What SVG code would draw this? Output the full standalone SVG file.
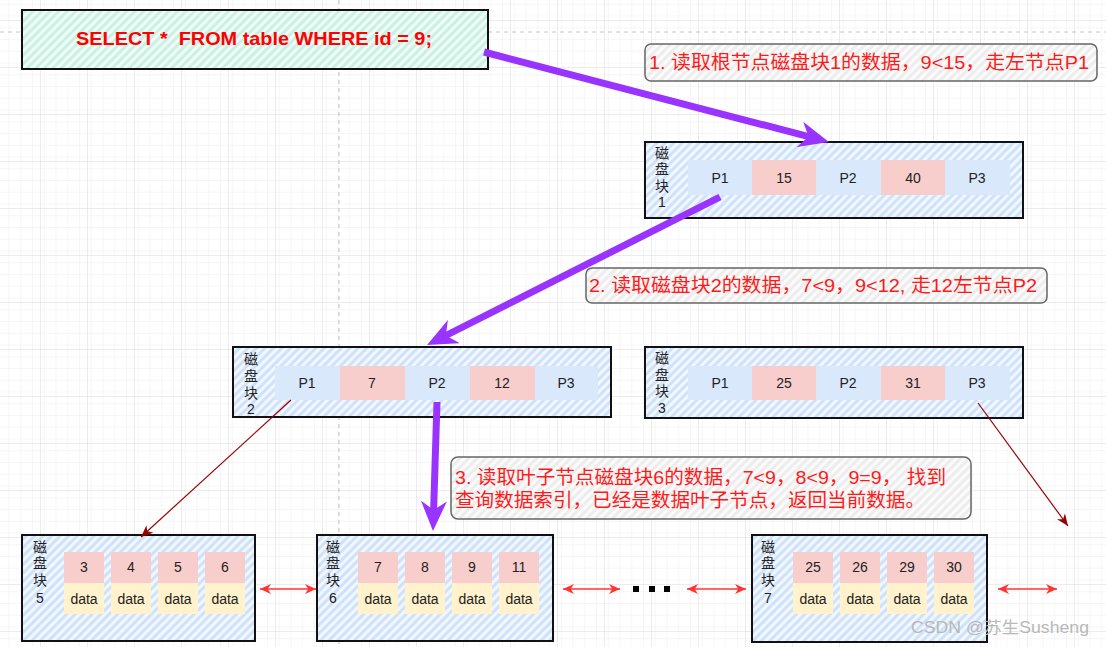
<svg xmlns="http://www.w3.org/2000/svg" width="1106" height="647" viewBox="0 0 1106 647">
<defs>
<style>
.t{font-family:"Liberation Sans","Noto Sans CJK SC",sans-serif;}
.cell{font-family:"Liberation Sans","Noto Sans CJK SC",sans-serif;font-size:14px;fill:#222;text-anchor:middle;}
.vl{font-family:"Liberation Sans","Noto Sans CJK SC",sans-serif;font-size:14px;fill:#222;text-anchor:middle;}
.blk{fill:url(#hatchBlue);stroke:#111;stroke-width:2;}
.lbl{fill:url(#hatchGray);stroke:#666;stroke-width:1.5;}
.note{font-family:"Liberation Sans","Noto Sans CJK SC",sans-serif;font-size:19px;fill:#ff1a1a;}
.p{fill:#dae8fc;}
.k{fill:#f8cecc;}
.d{fill:#fff2cc;}
.purple{stroke:#9933ff;stroke-width:7;fill:none;marker-end:url(#pHead);}
.dred{stroke:#990000;stroke-width:1.2;fill:none;marker-end:url(#dHead);}
.rdbl{stroke:#ff3333;stroke-width:1.5;fill:none;marker-start:url(#rHead);marker-end:url(#rHead);}
</style>
<pattern id="gridMinor" width="11.75" height="11.75" patternUnits="userSpaceOnUse" x="40" y="20">
<path d="M11.75 0V11.75H0" fill="none" stroke="#eeeeee" stroke-width="1"/>
</pattern>
<pattern id="grid" width="47" height="47" patternUnits="userSpaceOnUse" x="40" y="20">
<rect width="47" height="47" fill="url(#gridMinor)"/>
<path d="M0 0V47M0 0H47" fill="none" stroke="#dadada" stroke-width="1"/>
</pattern>
<pattern id="hatchBlue" width="6" height="6" patternUnits="userSpaceOnUse" patternTransform="rotate(45)">
<rect width="6" height="6" fill="#f2f7fe"/>
<rect width="3" height="6" fill="#cfe2fb"/>
</pattern>
<pattern id="hatchTeal" width="6" height="6" patternUnits="userSpaceOnUse" patternTransform="rotate(45)">
<rect width="6" height="6" fill="#effbf7"/>
<rect width="3" height="6" fill="#cbf1e5"/>
</pattern>
<pattern id="hatchGray" width="6" height="6" patternUnits="userSpaceOnUse" patternTransform="rotate(45)">
<rect width="6" height="6" fill="#fbfbfb"/>
<rect width="3" height="6" fill="#ededed"/>
</pattern>
<marker id="pHead" viewBox="0 0 10 10" refX="3.33" refY="5" markerWidth="30" markerHeight="26" markerUnits="userSpaceOnUse" orient="auto" preserveAspectRatio="none">
<path d="M0 0L10 5L0 10L3 5Z" fill="#9933ff"/>
</marker>
<marker id="dHead" viewBox="0 0 10 10" refX="10" refY="5" markerWidth="12" markerHeight="10" markerUnits="userSpaceOnUse" orient="auto" preserveAspectRatio="none">
<path d="M0 0L10 5L0 10L3 5Z" fill="#990000"/>
</marker>
<marker id="rHead" viewBox="0 0 10 10" refX="10" refY="5" markerWidth="11" markerHeight="10" markerUnits="userSpaceOnUse" orient="auto-start-reverse" preserveAspectRatio="none">
<path d="M0 0L10 5L0 10L3 5Z" fill="#ff3333"/>
</marker>
</defs>

<rect width="1106" height="647" fill="#ffffff"/>
<rect width="1106" height="647" fill="url(#grid)"/>
<path d="M339 0V647M0 32H1106" stroke="#c8c8c8" stroke-width="1.2" stroke-dasharray="4 4" fill="none"/>

<g id="sql">
<rect x="22" y="10" width="466" height="59" fill="url(#hatchTeal)" stroke="#111" stroke-width="2"/>
<text class="t" x="76" y="45" font-size="19" font-weight="bold" fill="#ff0000" textLength="356" lengthAdjust="spacingAndGlyphs">SELECT *&#160; FROM table WHERE id = 9;</text>
</g>

<g id="note1">
<rect class="lbl" x="645" y="44" width="452" height="37" rx="6"/>
<text class="note" x="649" y="69" textLength="440" lengthAdjust="spacingAndGlyphs">1. 读取根节点磁盘块1的数据，9&lt;15，走左节点P1</text>
</g>

<g id="block1">
<rect class="blk" x="645" y="142" width="378" height="76"/>
<text class="vl" x="662" y="158">磁</text><text class="vl" x="662" y="174">盘</text><text class="vl" x="662" y="191">块</text><text class="vl" x="662" y="207">1</text>
<rect class="p" x="688" y="160" width="64" height="35"/><rect class="k" x="752" y="160" width="64" height="35"/><rect class="p" x="816" y="160" width="65" height="35"/><rect class="k" x="881" y="160" width="64" height="35"/><rect class="p" x="945" y="160" width="65" height="35"/>
<text class="cell" x="720" y="183">P1</text><text class="cell" x="784" y="183">15</text><text class="cell" x="848" y="183">P2</text><text class="cell" x="913" y="183">40</text><text class="cell" x="977" y="183">P3</text>
</g>

<g id="note2">
<rect class="lbl" x="586" y="268" width="461" height="35" rx="6"/>
<text class="note" x="589" y="292" textLength="448" lengthAdjust="spacingAndGlyphs">2. 读取磁盘块2的数据，7&lt;9，9&lt;12, 走12左节点P2</text>
</g>

<g id="block2">
<rect class="blk" x="233" y="347" width="378" height="70"/>
<text class="vl" x="251" y="364">磁</text><text class="vl" x="251" y="381">盘</text><text class="vl" x="251" y="398">块</text><text class="vl" x="251" y="414">2</text>
<rect class="p" x="275" y="366" width="65" height="34"/><rect class="k" x="340" y="366" width="65" height="34"/><rect class="p" x="405" y="366" width="65" height="34"/><rect class="k" x="470" y="366" width="65" height="34"/><rect class="p" x="535" y="366" width="63" height="34"/>
<text class="cell" x="307" y="388">P1</text><text class="cell" x="372" y="388">7</text><text class="cell" x="437" y="388">P2</text><text class="cell" x="502" y="388">12</text><text class="cell" x="566" y="388">P3</text>
</g>

<g id="block3">
<rect class="blk" x="645" y="347" width="378" height="71"/>
<text class="vl" x="662" y="363">磁</text><text class="vl" x="662" y="380">盘</text><text class="vl" x="662" y="396">块</text><text class="vl" x="662" y="413">3</text>
<rect class="p" x="688" y="366" width="64" height="34"/><rect class="k" x="752" y="366" width="64" height="34"/><rect class="p" x="816" y="366" width="65" height="34"/><rect class="k" x="881" y="366" width="64" height="34"/><rect class="p" x="945" y="366" width="65" height="34"/>
<text class="cell" x="720" y="388">P1</text><text class="cell" x="784" y="388">25</text><text class="cell" x="848" y="388">P2</text><text class="cell" x="913" y="388">31</text><text class="cell" x="977" y="388">P3</text>
</g>

<g id="note3">
<rect class="lbl" x="451" y="457" width="520" height="62" rx="7"/>
<text class="note" x="455" y="484" textLength="491" lengthAdjust="spacingAndGlyphs">3. 读取叶子节点磁盘块6的数据，7&lt;9，8&lt;9，9=9， 找到</text>
<text class="note" x="455" y="507" textLength="470" lengthAdjust="spacingAndGlyphs">查询数据索引，已经是数据叶子节点，返回当前数据。</text>
</g>

<g id="block5">
<rect class="blk" x="22" y="535" width="233" height="106"/>
<text class="vl" x="40" y="552">磁</text><text class="vl" x="40" y="568">盘</text><text class="vl" x="40" y="585">块</text><text class="vl" x="40" y="603">5</text>
<rect class="k" x="64" y="552" width="40" height="31"/><rect class="k" x="111" y="552" width="40" height="31"/><rect class="k" x="158" y="552" width="40" height="31"/><rect class="k" x="205" y="552" width="40" height="31"/>
<rect class="d" x="64" y="583" width="40" height="31"/><rect class="d" x="111" y="583" width="40" height="31"/><rect class="d" x="158" y="583" width="40" height="31"/><rect class="d" x="205" y="583" width="40" height="31"/>
<text class="cell" x="84" y="572">3</text><text class="cell" x="131" y="572">4</text><text class="cell" x="178" y="572">5</text><text class="cell" x="225" y="572">6</text>
<text class="cell" x="84" y="604">data</text><text class="cell" x="131" y="604">data</text><text class="cell" x="178" y="604">data</text><text class="cell" x="225" y="604">data</text>
</g>

<g id="block6">
<rect class="blk" x="317" y="535" width="236" height="106"/>
<text class="vl" x="333" y="552">磁</text><text class="vl" x="333" y="568">盘</text><text class="vl" x="333" y="585">块</text><text class="vl" x="333" y="603">6</text>
<rect class="k" x="358" y="552" width="40" height="31"/><rect class="k" x="405" y="552" width="40" height="31"/><rect class="k" x="452" y="552" width="40" height="31"/><rect class="k" x="499" y="552" width="40" height="31"/>
<rect class="d" x="358" y="583" width="40" height="31"/><rect class="d" x="405" y="583" width="40" height="31"/><rect class="d" x="452" y="583" width="40" height="31"/><rect class="d" x="499" y="583" width="40" height="31"/>
<text class="cell" x="378" y="572">7</text><text class="cell" x="425" y="572">8</text><text class="cell" x="472" y="572">9</text><text class="cell" x="519" y="572">11</text>
<text class="cell" x="378" y="604">data</text><text class="cell" x="425" y="604">data</text><text class="cell" x="472" y="604">data</text><text class="cell" x="519" y="604">data</text>
</g>

<g id="block7">
<rect class="blk" x="752" y="535" width="235" height="107"/>
<text class="vl" x="768" y="552">磁</text><text class="vl" x="768" y="568">盘</text><text class="vl" x="768" y="585">块</text><text class="vl" x="768" y="603">7</text>
<rect class="k" x="793" y="552" width="40" height="31"/><rect class="k" x="840" y="552" width="40" height="31"/><rect class="k" x="887" y="552" width="40" height="31"/><rect class="k" x="934" y="552" width="40" height="31"/>
<rect class="d" x="793" y="583" width="40" height="31"/><rect class="d" x="840" y="583" width="40" height="31"/><rect class="d" x="887" y="583" width="40" height="31"/><rect class="d" x="934" y="583" width="40" height="31"/>
<text class="cell" x="813" y="572">25</text><text class="cell" x="860" y="572">26</text><text class="cell" x="907" y="572">29</text><text class="cell" x="954" y="572">30</text>
<text class="cell" x="813" y="604">data</text><text class="cell" x="860" y="604">data</text><text class="cell" x="907" y="604">data</text><text class="cell" x="954" y="604">data</text>
</g>

<g id="ellipsis">
<rect x="633" y="586" width="6" height="6" fill="#000"/><rect x="649" y="586" width="6" height="6" fill="#000"/><rect x="664" y="586" width="6" height="6" fill="#000"/>
</g>

<g id="connectors">
<path class="purple" d="M484 52L809.6 136.9"/>
<path class="purple" d="M720 197L444.9 336"/>
<path class="purple" d="M437 402L433.6 511"/>
<path class="dred" d="M291 400L141 537"/>
<path class="dred" d="M978 403L1068 526"/>
<path class="rdbl" d="M260 589H316"/>
<path class="rdbl" d="M563 589H620"/>
<path class="rdbl" d="M687 589H746"/>
<path class="rdbl" d="M998 589H1057"/>
</g>

<text class="t" x="911" y="633" font-size="16" fill="#b8b8b8" textLength="178" lengthAdjust="spacingAndGlyphs">CSDN @苏生Susheng</text>
</svg>
